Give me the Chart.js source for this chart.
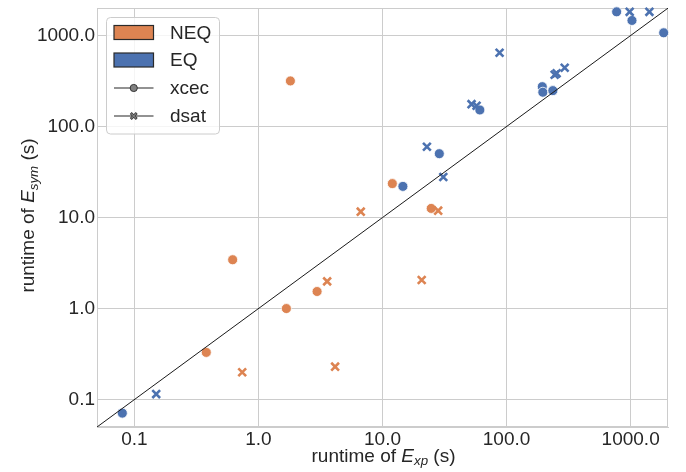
<!DOCTYPE html>
<html><head><meta charset="utf-8">
<script src="https://cdn.jsdelivr.net/npm/chart.js@4"></script>
<style>html,body{margin:0;padding:0;background:#fff;overflow:hidden}</style>
</head><body>
<canvas id="c" width="686" height="472"></canvas>
<script>
// ---- data (runtime in seconds) ----
const neqXcecX = [1.81, 12.0, 24.7, 0.62, 2.97, 1.68, 0.38];
const neqXcecY = [317, 23.6, 12.6, 3.44, 1.54, 1.0, 0.33];
const neqDsatX = [6.68, 28.1, 3.58, 20.7, 0.74, 4.15];
const neqDsatY = [11.6, 11.9, 1.99, 2.06, 0.20, 0.23];
const eqXcecX = [0.080, 14.6, 28.7, 60.9, 194, 196, 236, 771, 1025, 1846];
const eqXcecY = [0.071, 22.0, 50.3, 152, 274, 238, 248, 1820, 1463, 1071];
const eqDsatX = [0.15, 30.9, 22.8, 52.2, 57.3, 87.8, 253, 244, 294, 982, 1416];
const eqDsatY = [0.115, 27.9, 60, 176, 169, 646, 384, 371, 443, 1820, 1820];
const diagonalX = [0.05, 2000];
const diagonalY = [0.05, 2000];
const tickValues = [0.1, 1, 10, 100, 1000];
const tickLabels = ["0.1", "1.0", "10.0", "100.0", "1000.0"];
const axisMin = 0.05, axisMax = 2000;
const groupLabels = ["NEQ", "EQ"];
const toolLabels = ["xcec", "dsat"];

const ORANGE = '#dd8452', BLUE = '#4c72b0', TEXT = '#262626', GRID = '#cccccc';
const FONT = "'Liberation Sans', Arial, sans-serif";

function pts(xs, ys) { return xs.map((x, i) => ({x: x, y: ys[i]})); }

function circleSet(label, xs, ys, color) {
  return {type: 'scatter', label: label, data: pts(xs, ys), pointStyle: 'circle',
    pointRadius: 5, pointHoverRadius: 5, backgroundColor: color, borderColor: '#ffffff',
    borderWidth: 0.8, clip: false};
}
function crossSet(label, xs, ys, color) {
  return {type: 'scatter', label: label, data: pts(xs, ys), pointStyle: 'crossRot',
    pointRadius: 5.5, pointHoverRadius: 5.5, backgroundColor: color, borderColor: color,
    borderWidth: 2.6, clip: false};
}

function axisCfg(isX) {
  return {
    type: 'logarithmic', min: axisMin, max: axisMax,
    afterBuildTicks: s => { s.ticks = tickValues.map(v => ({value: v})); },
    afterFit: s => {
      if (isX) { s.height = 45; s.paddingLeft = 0; s.paddingRight = 0; }
      else { s.width = 97; s.paddingTop = 0; s.paddingBottom = 0; }
    },
    ticks: {
      autoSkip: false, maxRotation: 0, minRotation: 0,
      padding: isX ? 1 : 2,
      color: TEXT, font: {family: FONT, size: 19},
      callback: v => { const i = tickValues.indexOf(v); return i >= 0 ? tickLabels[i] : ''; }
    },
    grid: {color: GRID, lineWidth: 1, drawTicks: false},
    border: {display: true, color: GRID, width: 1}
  };
}

function drawRich(ctx, segs, size) {
  let w = 0;
  const parts = segs.map(s => {
    const fs = s.sub ? size * 0.7 : size;
    const f = (s.it ? 'italic ' : '') + fs + 'px ' + FONT;
    ctx.font = f;
    const m = ctx.measureText(s.t).width;
    const p = {t: s.t, f: f, x: w, dy: s.sub ? size * 0.2 : 0};
    w += m;
    return p;
  });
  return {w: w, parts: parts};
}
function paintRich(ctx, info, x0, y0) {
  info.parts.forEach(p => { ctx.font = p.f; ctx.fillText(p.t, x0 + p.x, y0 + p.dy); });
}

const decorPlugin = {
  id: 'decor',
  beforeDatasetsDraw(chart) {
    const a = chart.chartArea, ctx = chart.ctx;
    ctx.save();
    ctx.strokeStyle = GRID; ctx.lineWidth = 1;
    ctx.strokeRect(Math.round(a.left) + 0.5, Math.round(a.top) + 0.5,
      Math.round(a.right - a.left) - 1, Math.round(a.bottom - a.top) - 1);
    ctx.restore();
  },
  afterDraw(chart) {
    const a = chart.chartArea, ctx = chart.ctx;
    ctx.save();
    ctx.fillStyle = TEXT; ctx.textBaseline = 'alphabetic'; ctx.textAlign = 'left';
    // x title
    const xs = [{t: 'runtime of '}, {t: 'E', it: true}, {t: 'xp', it: true, sub: true}, {t: ' (s)'}];
    const xi = drawRich(ctx, xs, 19);
    paintRich(ctx, xi, (a.left + a.right) / 2 - xi.w / 2 + 1, 461.5);
    // y title
    const ys = [{t: 'runtime of '}, {t: 'E', it: true}, {t: 'sym', it: true, sub: true}, {t: ' (s)'}];
    const yi = drawRich(ctx, ys, 19);
    ctx.save();
    ctx.translate(34, 215.5);
    ctx.rotate(-Math.PI / 2);
    paintRich(ctx, yi, -yi.w / 2, 0);
    ctx.restore();

    // legend
    const bx = 106.5, by = 17.5, bw = 113, bh = 116.5, r = 4;
    ctx.beginPath();
    ctx.moveTo(bx + r, by); ctx.lineTo(bx + bw - r, by); ctx.arcTo(bx + bw, by, bx + bw, by + r, r);
    ctx.lineTo(bx + bw, by + bh - r); ctx.arcTo(bx + bw, by + bh, bx + bw - r, by + bh, r);
    ctx.lineTo(bx + r, by + bh); ctx.arcTo(bx, by + bh, bx, by + bh - r, r);
    ctx.lineTo(bx, by + r); ctx.arcTo(bx, by, bx + r, by, r); ctx.closePath();
    ctx.fillStyle = 'rgba(255,255,255,0.8)'; ctx.fill();
    ctx.strokeStyle = GRID; ctx.lineWidth = 1; ctx.stroke();

    const rowY = [32.5, 60, 88, 116];
    const px0 = 114, px1 = 153.5;
    [ORANGE, BLUE].forEach((c, i) => {
      ctx.fillStyle = c;
      ctx.fillRect(px0, rowY[i] - 7, px1 - px0, 14);
      ctx.strokeStyle = '#2a2a2a'; ctx.lineWidth = 1.2;
      ctx.strokeRect(px0, rowY[i] - 7, px1 - px0, 14);
    });
    [2, 3].forEach(k => {
      ctx.strokeStyle = '#6e6e6e'; ctx.lineWidth = 1.5;
      ctx.beginPath(); ctx.moveTo(px0, rowY[k]); ctx.lineTo(px1, rowY[k]); ctx.stroke();
    });
    const mx = (px0 + px1) / 2;
    ctx.beginPath(); ctx.arc(mx, rowY[2], 3.6, 0, Math.PI * 2);
    ctx.fillStyle = '#808080'; ctx.fill(); ctx.strokeStyle = '#333333'; ctx.lineWidth = 1; ctx.stroke();
    ctx.strokeStyle = '#333333'; ctx.lineWidth = 2.6;
    ctx.beginPath();
    ctx.moveTo(mx - 3, rowY[3] - 3); ctx.lineTo(mx + 3, rowY[3] + 3);
    ctx.moveTo(mx - 3, rowY[3] + 3); ctx.lineTo(mx + 3, rowY[3] - 3); ctx.stroke();
    ctx.strokeStyle = '#808080'; ctx.lineWidth = 1.2;
    ctx.beginPath();
    ctx.moveTo(mx - 2.5, rowY[3] - 2.5); ctx.lineTo(mx + 2.5, rowY[3] + 2.5);
    ctx.moveTo(mx - 2.5, rowY[3] + 2.5); ctx.lineTo(mx + 2.5, rowY[3] - 2.5); ctx.stroke();

    ctx.fillStyle = TEXT; ctx.font = '19px ' + FONT; ctx.textBaseline = 'middle';
    const labels = groupLabels.concat(toolLabels);
    labels.forEach((t, i) => ctx.fillText(t, 170, rowY[i] + 1));
    ctx.restore();
  }
};

new Chart(document.getElementById('c'), {
  data: {
    datasets: [
      {type: 'line', label: 'y = x', data: pts(diagonalX, diagonalY), borderColor: '#1a1a1a',
        borderWidth: 1, pointRadius: 0, fill: false, tension: 0},
      crossSet('EQ dsat', eqDsatX, eqDsatY, BLUE),
      circleSet('EQ xcec', eqXcecX, eqXcecY, BLUE),
      crossSet('NEQ dsat', neqDsatX, neqDsatY, ORANGE),
      circleSet('NEQ xcec', neqXcecX, neqXcecY, ORANGE)
    ]
  },
  options: {
    responsive: false, animation: false, devicePixelRatio: 1,
    layout: {padding: {left: 0, top: 7, right: 18, bottom: 0}},
    plugins: {legend: {display: false}, tooltip: {enabled: false}},
    scales: {x: axisCfg(true), y: axisCfg(false)}
  },
  plugins: [decorPlugin]
});
</script>
</body></html>
